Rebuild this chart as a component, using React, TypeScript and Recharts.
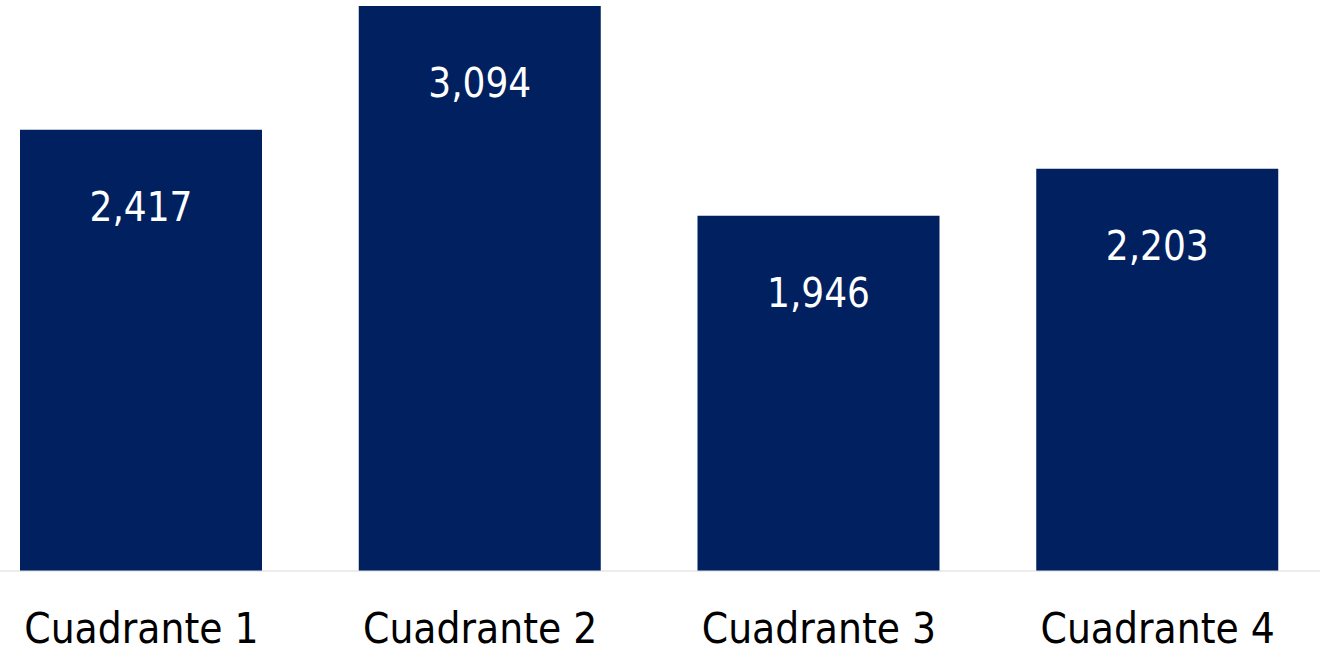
import React from 'react';
import { BarChart, Bar, XAxis, YAxis, LabelList } from 'recharts';

const categories = ['Cuadrante 1', 'Cuadrante 2', 'Cuadrante 3', 'Cuadrante 4'];
const values = [2417, 3094, 1946, 2203];

const data = categories.map((name, i) => ({ name, value: values[i] }));

const FONT = '"DejaVu Sans Condensed", "DejaVu Sans", sans-serif';
const BAR_COLOR = '#002060';

const fmt = (v: number) => v.toLocaleString('en-US');

const ValueLabel = (props: any) => {
  const { x, y, width, value } = props;
  return (
    <text
      x={Number(x) + Number(width) / 2}
      y={Number(y) + 91}
      textAnchor="middle"
      fill="#ffffff"
      fontSize={40}
      fontFamily={FONT}
    >
      {fmt(Number(value))}
    </text>
  );
};

const AxisTick = (props: any) => {
  const { x, y, payload } = props;
  return (
    <text
      x={x}
      y={Number(y) + 72}
      textAnchor="middle"
      fill="#000000"
      fontSize={42}
      fontFamily={FONT}
    >
      {payload.value}
    </text>
  );
};

export default function App() {
  return (
    <div
      style={{
        position: 'absolute',
        left: 0,
        top: 0,
        width: 1320,
        height: 650,
        overflow: 'hidden',
        background: '#ffffff',
      }}
    >
      <div style={{ position: 'absolute', left: -28, top: 0 }}>
        <BarChart
          width={1355}
          height={650}
          data={data}
          margin={{ top: 6, right: 0, left: 0, bottom: 0 }}
          barSize={242}
        >
          <XAxis
            dataKey="name"
            axisLine={{ stroke: '#D9D9D9', strokeWidth: 1 }}
            tickLine={false}
            tickSize={0}
            tickMargin={0}
            tick={<AxisTick />}
            interval={0}
            height={79}
          />
          <YAxis hide domain={[0, 'dataMax']} />
          <Bar dataKey="value" fill={BAR_COLOR} isAnimationActive={false}>
            <LabelList dataKey="value" content={<ValueLabel />} />
          </Bar>
        </BarChart>
      </div>
    </div>
  );
}
